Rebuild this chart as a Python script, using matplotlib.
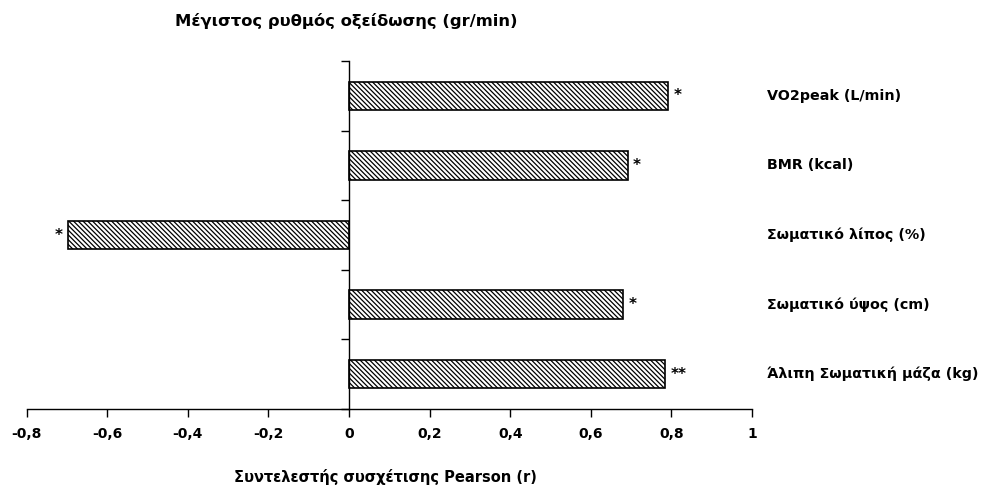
import matplotlib
matplotlib.use("Agg")
import matplotlib.pyplot as plt
from matplotlib.ticker import FixedLocator

# Pearson correlations with maximal fat oxidation rate (bottom to top)
categories = ["Άλιπη Σωματική μάζα (kg)", "Σωματικό ύψος (cm)",
              "Σωματικό λίπος (%)", "BMR (kcal)", "VO2peak (L/min)"]
r_values = [0.785, 0.681, -0.697, 0.691, 0.791]
significance = ["**", "*", "*", "*", "*"]

x_ticks = [-0.8, -0.6, -0.4, -0.2, 0, 0.2, 0.4, 0.6, 0.8, 1]
x_tick_labels = ["-0,8", "-0,6", "-0,4", "-0,2", "0", "0,2", "0,4", "0,6", "0,8", "1"]

plt.rcParams["font.family"] = ["DejaVu Sans"]
plt.rcParams["font.weight"] = "bold"
plt.rcParams["hatch.linewidth"] = 0.9
plt.rcParams["hatch.color"] = "#333333"

fig = plt.figure(figsize=(9.95, 4.94), dpi=100)
ax = fig.add_axes([0.0268, 0.172, 0.7290, 0.7045])

ypos = list(range(len(categories)))
ax.barh(ypos, r_values, height=0.41, color="white", edgecolor="black",
        linewidth=1.2, hatch="\\" * 7)

for y, v, s in zip(ypos, r_values, significance):
    if v >= 0:
        ax.annotate(s, (v, y), xytext=(4, 0), textcoords="offset points",
                    ha="left", va="center", fontsize=11, fontweight="bold")
    else:
        ax.annotate(s, (v, y), xytext=(-4, 0), textcoords="offset points",
                    ha="right", va="center", fontsize=11, fontweight="bold")

ax.set_xlim(-0.8, 1.0)
ax.set_ylim(-0.5, len(categories) - 0.5)

ax.spines["top"].set_visible(False)
ax.spines["right"].set_visible(False)
ax.spines["left"].set_position(("data", 0))
ax.spines["left"].set_linewidth(1.0)
ax.spines["bottom"].set_linewidth(1.0)

ax.set_xticks(x_ticks)
ax.set_xticklabels(x_tick_labels, fontsize=10, fontweight="bold")
ax.tick_params(axis="x", direction="out", length=6, width=1.0, pad=7)

ax.yaxis.set_major_locator(FixedLocator([i - 0.5 for i in range(len(categories) + 1)]))
ax.set_yticklabels([])
ax.tick_params(axis="y", direction="out", length=6, width=1.0)

for y, name in zip(ypos, categories):
    ax.text(1.02, y, name, transform=ax.get_yaxis_transform(),
            ha="left", va="center", fontsize=10.3, fontweight="bold")

fig.text(346 / 995, 1 - 21 / 494, "Μέγιστος ρυθμός οξείδωσης (gr/min)",
         ha="center", va="center", fontsize=11.8, fontweight="bold")
fig.text(385 / 995, 1 - 477 / 494, "Συντελεστής συσχέτισης Pearson (r)",
         ha="center", va="center", fontsize=10.5, fontweight="bold")

fig.savefig("out.png", dpi=100)
